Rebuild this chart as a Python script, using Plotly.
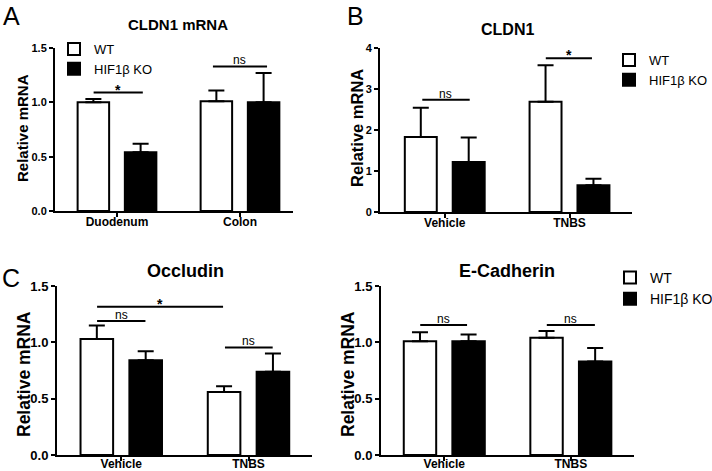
import plotly.graph_objects as go

W, H = 712, 471

# ---------------- data ----------------
groups = ["WT", "HIF1β KO"]
categories_A = ["Duodenum", "Colon"]
categories_BCD = ["Vehicle", "TNBS"]

A_wt = [1.00, 1.01]
A_wt_err = [0.03, 0.10]
A_ko = [0.54, 1.00]
A_ko_err = [0.08, 0.27]

B_wt = [1.83, 2.69]
B_wt_err = [0.71, 0.89]
B_ko = [1.22, 0.65]
B_ko_err = [0.60, 0.16]

C_wt = [1.03, 0.56]
C_wt_err = [0.12, 0.05]
C_ko = [0.84, 0.74]
C_ko_err = [0.08, 0.16]

D_wt = [1.01, 1.04]
D_wt_err = [0.08, 0.06]
D_ko = [1.01, 0.83]
D_ko_err = [0.06, 0.12]

panel_titles = ["CLDN1 mRNA", "CLDN1", "Occludin", "E-Cadherin"]
panel_letters = ["A", "B", "C"]
y_title = "Relative mRNA"

# significance brackets: (panel index, x0, x1, y, label) in category units
sig_brackets = [
    (0, -0.19, 0.21, 1.09, "*"),
    (0, 0.78, 1.22, 1.33, "ns"),
    (1, -0.18, 0.20, 2.74, "ns"),
    (1, 0.81, 1.18, 3.75, "*"),
    (2, -0.19, 0.80, 1.316, "*"),
    (2, -0.19, 0.19, 1.19, "ns"),
    (2, 0.815, 1.19, 0.955, "ns"),
    (3, -0.19, 0.18, 1.153, "ns"),
    (3, 0.81, 1.19, 1.153, "ns"),
]

FONT = "Liberation Sans"

def px_x(p):
    return p / W

def px_y(p):
    return 1 - p / H

panels = [
    dict(cats=categories_A, wt=A_wt, wte=A_wt_err, ko=A_ko, koe=A_ko_err,
         xdom=[55, 293], ydom=[211, 48], xr=[-0.504, 1.431], yr=[0, 1.5], dtick=0.5, fmt=".1f",
         tick=11, xtick=12, standoff=-5, legend="legend"),
    dict(cats=categories_BCD, wt=B_wt, wte=B_wt_err, ko=B_ko, koe=B_ko_err,
         xdom=[380, 632], ydom=[212, 48], xr=[-0.519, 1.501], yr=[0, 4], dtick=1, fmt="d",
         tick=11, xtick=12, standoff=-5, legend="legend2"),
    dict(cats=categories_BCD, wt=C_wt, wte=C_wt_err, ko=C_ko, koe=C_ko_err,
         xdom=[57, 312], ydom=[455, 286], xr=[-0.505, 1.499], yr=[0, 1.5], dtick=0.5, fmt=".1f",
         tick=13, xtick=12, standoff=-7, legend=None),
    dict(cats=categories_BCD, wt=D_wt, wte=D_wt_err, ko=D_ko, koe=D_ko_err,
         xdom=[381, 634], ydom=[455, 286], xr=[-0.5, 1.499], yr=[0, 1.5], dtick=0.5, fmt=".1f",
         tick=13, xtick=12, standoff=-7, legend="legend3"),
]

fig = go.Figure()
layout = {}
for i, p in enumerate(panels):
    n = "" if i == 0 else str(i + 1)
    xa, ya = "x" + n, "y" + n
    for g, vals, errs, fill in [(groups[0], p["wt"], p["wte"], "white"),
                                (groups[1], p["ko"], p["koe"], "black")]:
        fig.add_trace(go.Bar(
            x=p["cats"], y=vals, name=g, xaxis=xa, yaxis=ya,
            marker=dict(color=fill, line=dict(color="black", width=2)),
            error_y=dict(type="data", array=errs, arrayminus=[0] * len(errs), symmetric=False,
                         color="black", thickness=2, width=8),
            showlegend=p["legend"] is not None,
            legend=p["legend"] if p["legend"] else "legend",
            legendgroup=f"{i}_{g}",
            hoverinfo="skip",
        ))
    layout["xaxis" + n] = dict(
        domain=[px_x(p["xdom"][0]), px_x(p["xdom"][1])], range=p["xr"], anchor=ya,
        type="category", showline=True, linewidth=2, linecolor="black",
        ticks="outside", ticklen=4, tickwidth=2, tickcolor="black", showgrid=False, zeroline=False,
        ticklabelstandoff=p["standoff"],
        tickfont=dict(family=FONT, size=p["xtick"], color="black", weight="bold"), fixedrange=True)
    layout["yaxis" + n] = dict(
        domain=[px_y(p["ydom"][0]), px_y(p["ydom"][1])], range=p["yr"], anchor=xa,
        dtick=p["dtick"], tickformat=p["fmt"], showline=True, linewidth=2, linecolor="black",
        ticks="outside", ticklen=4, tickwidth=2, tickcolor="black", showgrid=False, zeroline=False,
        tickfont=dict(family=FONT, size=p["tick"], color="black", weight="bold"), fixedrange=True)

shapes = []
annotations = []
for (pi, x0, x1, y, lab) in sig_brackets:
    n = "" if pi == 0 else str(pi + 1)
    star = lab == "*"
    shapes.append(dict(type="line", xref="x" + n, yref="y" + n, x0=x0, x1=x1, y0=y, y1=y,
                       line=dict(color="black", width=2)))
    annotations.append(dict(xref="x" + n, yref="y" + n, x=(x0 + x1) / 2, y=y, text=lab,
                            showarrow=False, yanchor="bottom", xanchor="center",
                            yshift=-7 if star else -3,
                            font=dict(family=FONT, size=14 if star else 12, color="black",
                                      weight="bold" if star else "normal")))

# panel titles
title_pos = [(178, 25, 15), (507, 30, 16), (185, 271, 18), (507, 271, 18)]
for t, (x, y, s) in zip(panel_titles, title_pos):
    annotations.append(dict(xref="paper", yref="paper", x=px_x(x), y=px_y(y), text=t, showarrow=False,
                            xanchor="center", yanchor="middle",
                            font=dict(family=FONT, size=s, color="black", weight="bold")))

# y-axis titles
ytitle_pos = [(23, 128, 15), (357, 128, 16.5), (24, 374, 17.5), (348, 374, 17.5)]
for (x, y, s) in ytitle_pos:
    annotations.append(dict(xref="paper", yref="paper", x=px_x(x), y=px_y(y), text=y_title,
                            showarrow=False, textangle=-90, xanchor="center", yanchor="middle",
                            font=dict(family=FONT, size=s, color="black", weight="bold")))

# panel letters (x, top y in px)
letter_pos = [(11, 0), (355, 0), (11, 262)]
for L, (x, y) in zip(panel_letters, letter_pos):
    annotations.append(dict(xref="paper", yref="paper", x=px_x(x), y=px_y(y), text=L, showarrow=False,
                            xanchor="center", yanchor="top",
                            font=dict(family=FONT, size=25, color="black")))

leg_common = dict(xanchor="left", yanchor="top", bgcolor="rgba(0,0,0,0)", tracegroupgap=0,
                  itemclick=False, itemdoubleclick=False)
layout["legend"] = dict(x=px_x(54), y=px_y(34), font=dict(family=FONT, size=13, color="black"), **leg_common)
layout["legend2"] = dict(x=px_x(609), y=px_y(45), font=dict(family=FONT, size=13, color="black"), **leg_common)
layout["legend3"] = dict(x=px_x(610), y=px_y(262), font=dict(family=FONT, size=14, color="black"), **leg_common)

fig.update_layout(
    width=W, height=H, margin=dict(l=0, r=0, t=0, b=0, autoexpand=False),
    paper_bgcolor="white", plot_bgcolor="white",
    barmode="group", bargap=0.232, bargroupgap=0.333,
    shapes=shapes, annotations=annotations, hovermode=False,
    font=dict(family=FONT, color="black"),
    **layout,
)

fig.write_html("out.html", config={"displayModeBar": False},
               post_script="document.body.style.margin='0';document.body.style.overflow='hidden';")
